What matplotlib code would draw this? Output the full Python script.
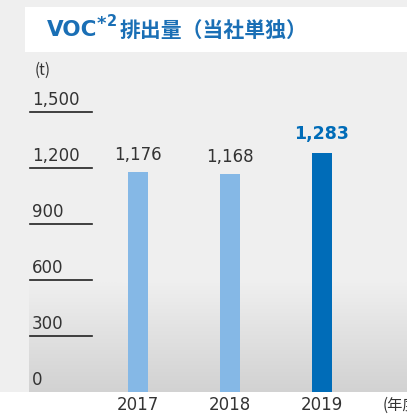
import numpy as np
import matplotlib
matplotlib.use("Agg")
import matplotlib.pyplot as plt
from matplotlib.patches import Rectangle

plt.rcParams["font.family"] = ["Noto Sans CJK JP", "DejaVu Sans"]

years = ["2017", "2018", "2019"]
values = [1176, 1168, 1283]
labels = ["1,176", "1,168", "1,283"]
bar_colors = ["#85b8e6", "#85b8e6", "#006cb8"]
yticks = [0, 300, 600, 900, 1200, 1500]
ytick_labels = ["0", "300", "600", "900", "1,200", "1,500"]

W, H = 407, 416
fig = plt.figure(figsize=(W / 100, H / 100), dpi=100)
fig.patch.set_facecolor("#efefef")

# white strip below the baseline and white title box
fig.patches.append(Rectangle((0, 0), 1, 24 / H, transform=fig.transFigure,
                             facecolor="white", edgecolor="none", zorder=-5))
fig.patches.append(Rectangle((25 / W, 1 - 52 / H), 1, 45 / H, transform=fig.transFigure,
                             facecolor="white", edgecolor="none", zorder=-5))
blue = "#1a6fb5"
fig.text(47 / W, 1 - 30 / H, "VOC", color=blue, fontsize=15.5,
         fontweight="bold", va="center", ha="left", family=["DejaVu Sans"])
fig.text(97 / W, 1 - 24 / H, "*", color=blue, fontsize=13,
         fontweight="bold", va="center", ha="left", family=["DejaVu Sans"])
fig.text(107 / W, 1 - 22 / H, "2", color=blue, fontsize=10.5,
         fontweight="bold", va="center", ha="left", family=["DejaVu Sans"])
fig.text(120 / W, 1 - 30 / H, "排出量（当社単独）", color=blue, fontsize=15,
         fontweight="bold", va="center", ha="left")

# axes spanning whole figure; 0 at y=392px, 300 units = 56px
ax = fig.add_axes([0, 0, 1, 1])
ax.set_facecolor("none")
px = 300 / 56
ax.set_ylim(-(H - 392) * px, 392 * px)
ax.set_xlim(-138 / 92, (W - 138) / 92)
ax.axis("off")

# gradient background
grad = np.linspace(0, 1, 100).reshape(-1, 1)
cmap = matplotlib.colors.LinearSegmentedColormap.from_list("g", ["#d2d2d2", "#efefef"])
ax.imshow(grad, cmap=cmap, aspect="auto", origin="lower",
          extent=[(29 - 138) / 92, (W - 138) / 92, 0, 110 * px], zorder=0)

x = np.arange(len(years))
ax.bar(x, values, width=20 / 92, color=bar_colors, zorder=2)

for i, (v, lab) in enumerate(zip(values, labels)):
    if i == 2:
        ax.text(i, v + 10 * px, lab, ha="center", va="bottom", fontsize=12.5,
                fontweight="bold", color="#006cb8", family=["DejaVu Sans"])
    else:
        ax.text(i, v + 8 * px, lab, ha="center", va="bottom", fontsize=12,
                color="#333333", family=["DejaVu Sans"])

x0, x1 = (30 - 138) / 92, (92 - 138) / 92
for t, lab in zip(yticks, ytick_labels):
    if t > 0:
        ax.plot([x0, x1], [t, t], color="#222222", lw=1.2, zorder=3)
    ax.text((32 - 138) / 92, t + 3 * px, lab, ha="left", va="bottom", fontsize=12,
            color="#333333", family=["DejaVu Sans"])

ax.text((35 - 138) / 92, (392 - 70) * px, "(t)", ha="left", va="center",
        fontsize=11, color="#333333")

for i, y in enumerate(years):
    ax.text(i, -13 * px, y, ha="center", va="center", fontsize=12,
            color="#333333", family=["DejaVu Sans"], zorder=5)
ax.text((383 - 138) / 92, -13 * px, "(年度)", ha="left", va="center",
        fontsize=11, color="#333333", zorder=5)

fig.savefig("out.png", dpi=100)
